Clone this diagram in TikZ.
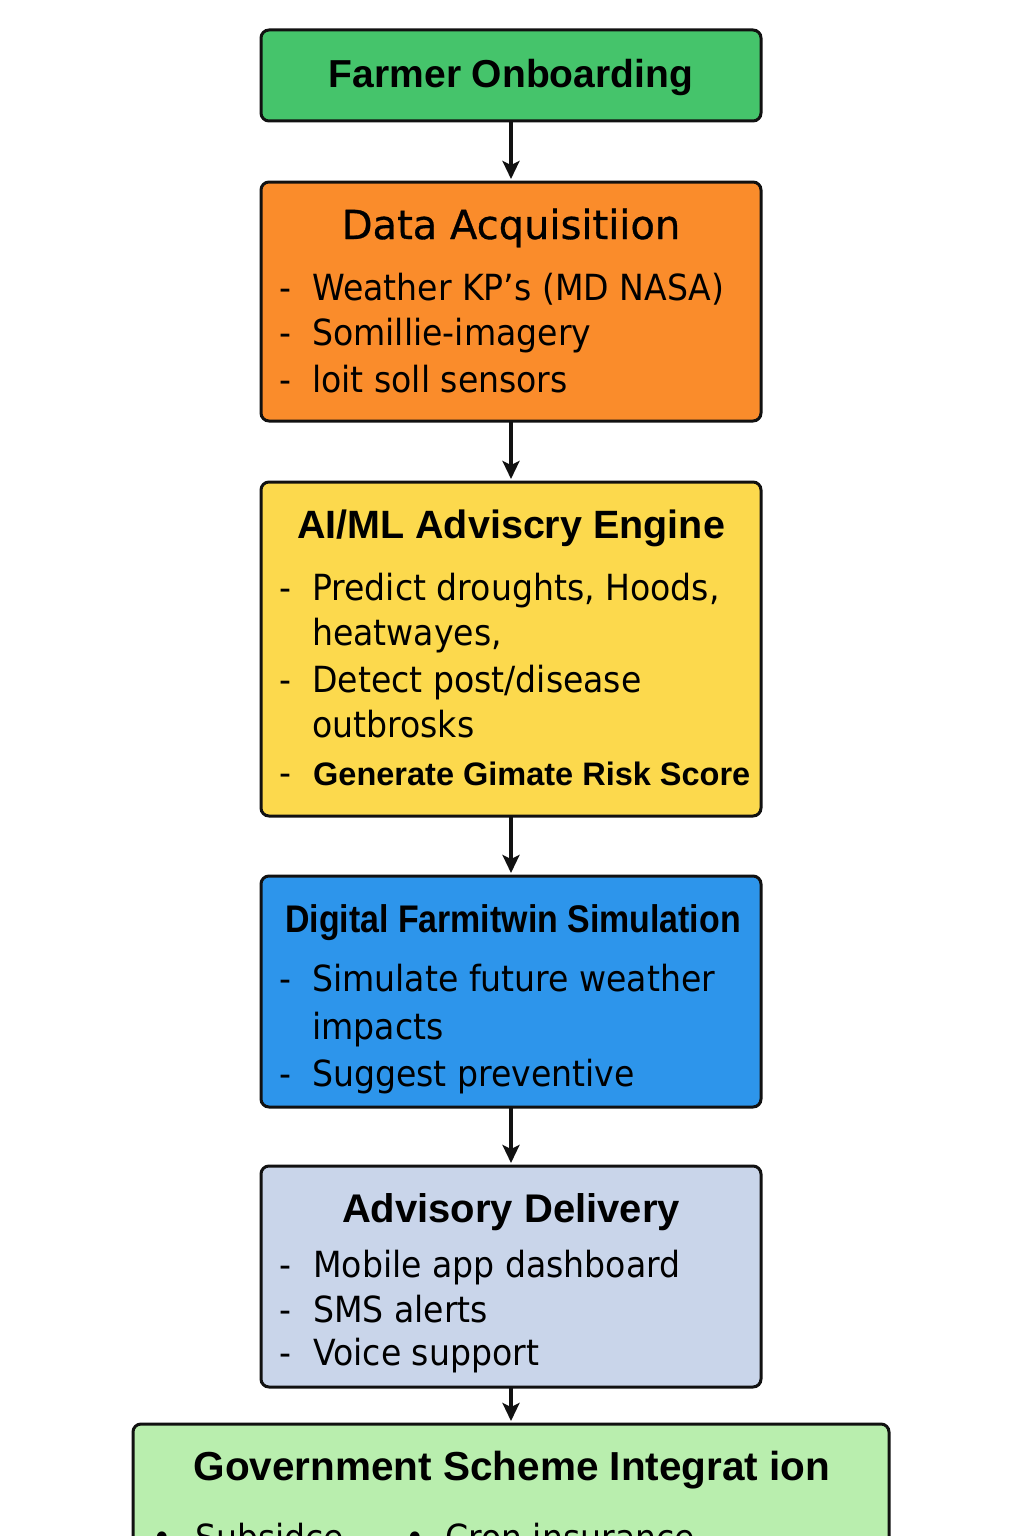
\documentclass[tikz,border=0pt]{standalone}
\usepackage{fontspec}
\setmainfont{DejaVu Sans}
\newfontfamily\bodyf[FakeStretch=0.92]{DejaVu Sans}
\newfontfamily\medf[FakeBold=0.8]{DejaVu Sans}
\newfontfamily\headf{Liberation Sans}
\newfontfamily\headnarrowf[FakeStretch=0.88]{Liberation Sans}
\usetikzlibrary{arrows.meta}
\definecolor{cGreen}{HTML}{45C46B}
\definecolor{cOrange}{HTML}{FA8C2B}
\definecolor{cYellow}{HTML}{FCD94D}
\definecolor{cBlue}{HTML}{2D95EB}
\definecolor{cGrey}{HTML}{C9D5EA}
\definecolor{cLight}{HTML}{B9EEAE}
\definecolor{cLine}{HTML}{111111}
\begin{document}
\begin{tikzpicture}[x=1pt,y=-1pt,
  box/.style={draw=cLine, line width=3pt, rounded corners=8pt, minimum width=500pt, inner sep=0pt, outer sep=0pt},
  title/.style={anchor=base, inner sep=0pt, font=\headf\bfseries\fontsize{40}{48}\selectfont},
  plaintitle/.style={anchor=base, inner sep=0pt, font=\medf\fontsize{40}{48}\selectfont},
  item/.style={anchor=base west, inner sep=0pt, font=\bodyf\fontsize{36}{43}\selectfont},
  bolditem/.style={anchor=base west, inner sep=0pt, font=\headf\bfseries\fontsize{32.5}{40}\selectfont},
  dashmark/.style={anchor=base west, inner sep=0pt, font=\bodyf\fontsize{36}{43}\selectfont},
  arr/.style={draw=cLine, line width=3.2pt, -{Stealth[length=18pt,width=17pt,inset=4pt]}, shorten >=3pt}
]
\clip (0,0) rectangle (1024,1536);
\useasboundingbox (0,0) rectangle (1024,1536);
\fill[white] (0,0) rectangle (1024,1536);

% boxes
\node[box, fill=cGreen, minimum height=91pt] (b1) at (511,75.5) {};
\node[box, fill=cOrange, minimum height=239pt] (b2) at (511,301.5) {};
\node[box, fill=cYellow, minimum height=334pt] (b3) at (511,649) {};
\node[box, fill=cBlue, minimum height=231pt] (b4) at (511,991.5) {};
\node[box, fill=cGrey, minimum height=221pt] (b5) at (511,1276.5) {};
\node[box, fill=cLight, minimum width=756pt, minimum height=300pt] (b6) at (511,1574) {};

% connectors
\draw[arr] (b1.south) -- (b2.north);
\draw[arr] (b2.south) -- (b3.north);
\draw[arr] (b3.south) -- (b4.north);
\draw[arr] (b4.south) -- (b5.north);
\draw[arr] (b5.south) -- (b6.north);

% box 1
\node[title, font=\headf\bfseries\fontsize{39}{46}\selectfont] (t1) at (511,88) {Farmer Onboarding};

% box 2
\node[plaintitle] (t2) at (511,239) {Data Acquisitiion};
\node[dashmark] (d21) at (279,300) {-};
\node[item] (i21) at (312,300) {Weather KP’s (MD NASA)};
\node[dashmark] (d22) at (279,345) {-};
\node[item] (i22) at (312,345) {Somillie-imagery};
\node[dashmark] (d23) at (279,392) {-};
\node[item] (i23) at (312,392) {loit soll sensors};

% box 3
\node[title, font=\headf\bfseries\fontsize{39.5}{46}\selectfont] (t3) at (511,538) {AI/ML Adviscry Engine};
\node[dashmark] (d31) at (279,600) {-};
\node[item] (i31) at (312,600) {Predict droughts, Hoods,};
\node[item] (i32) at (312,645) {heatwayes,};
\node[dashmark] (d33) at (279,692) {-};
\node[item] (i33) at (312,692) {Detect post/disease};
\node[item] (i34) at (312,737) {outbrosks};
\node[dashmark] (d35) at (279,785) {-};
\node[bolditem] (i35) at (313,785) {Generate Gimate Risk Score};

% box 4
\node[title, font=\headnarrowf\bfseries\fontsize{38.5}{46}\selectfont] (t4) at (513,932) {Digital Farmitwin Simulation};
\node[dashmark] (d41) at (279,991) {-};
\node[item] (i41) at (312,991) {Simulate future weather};
\node[item] (i42) at (312,1039) {impacts};
\node[dashmark] (d43) at (279,1086) {-};
\node[item] (i43) at (312,1086) {Suggest preventive};

% box 5
\node[title] (t5) at (511,1222) {Advisory Delivery};
\node[dashmark] (d51) at (279,1277) {-};
\node[item] (i51) at (313,1277) {Mobile app dashboard};
\node[dashmark] (d52) at (279,1322) {-};
\node[item] (i52) at (313,1322) {SMS alerts};
\node[dashmark] (d53) at (279,1365) {-};
\node[item] (i53) at (313,1365) {Voice support};

% box 6 (cut off at the bottom edge, as in the reference)
\node[title, font=\headf\bfseries\fontsize{40.5}{48}\selectfont] (t6) at (512,1480) {Government Scheme Integrat ion};
\node[item, anchor=base] (u61) at (162,1550) {•};
\node[item] (i61) at (195,1550) {Subsidce};
\node[item, anchor=base] (u62) at (415,1550) {•};
\node[item] (i62) at (445,1550) {Cron insurance};
\end{tikzpicture}
\end{document}
